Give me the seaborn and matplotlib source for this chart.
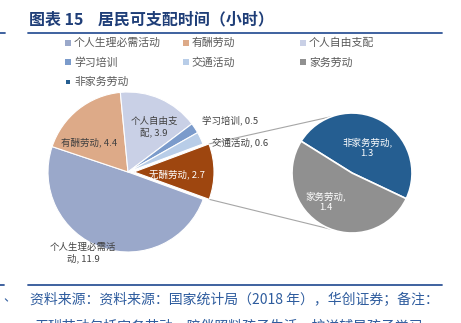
import math
import matplotlib
matplotlib.use("Agg")
import matplotlib.pyplot as plt
import seaborn as sns

sns.set_theme(style="white")
plt.rcParams['font.family'] = ['Noto Sans CJK SC', 'DejaVu Sans']

# ---- data ----
main_labels = ["个人生理必需活动", "有酬劳动", "个人自由支配", "学习培训", "交通活动", "无酬劳动"]
main_values = [11.9, 4.4, 3.9, 0.5, 0.6, 2.7]
main_colors = ["#9AA8CA", "#DDAA88", "#C9D0E6", "#7B9BCB", "#B8CDE8", "#9E460F"]

sub_labels = ["非家务劳动", "家务劳动"]
sub_values = [1.3, 1.4]
sub_colors = ["#255E91", "#909090"]

legend_labels = ["个人生理必需活动", "有酬劳动", "个人自由支配", "学习培训", "交通活动", "家务劳动", "非家务劳动"]
legend_colors = ["#9AA8CA", "#DDAA88", "#C9D0E6", "#7B9BCB", "#B8CDE8", "#909090", "#255E91"]

title = "图表 15    居民可支配时间（小时）"
footer1 = "资料来源：资料来源：国家统计局（2018 年），华创证券；备注："
footer2 = "无酬劳动包括家务劳动、陪伴照料孩子生活、护送辅导孩子学习"

W, H = 461, 323
fig = plt.figure(figsize=(W / 100, H / 100), dpi=100)
ax = fig.add_axes([0, 0, 1, 1])

def Y(y):
    return H - y

# main pie
mc = (128, Y(172))
mr = 80
explode = [0, 0, 0, 0, 0, 6]
w_main, _ = ax.pie(main_values, colors=main_colors, startangle=-20, counterclock=False,
                   center=mc, radius=mr, explode=explode, frame=True,
                   wedgeprops=dict(edgecolor="white", linewidth=0.8))

# sub pie
sc = (352, Y(173))
sr = 60
w_sub, _ = ax.pie(sub_values, colors=sub_colors, startangle=148, counterclock=False,
                  center=sc, radius=sr, frame=True,
                  wedgeprops=dict(edgecolor="white", linewidth=1.2))

# connector lines from exploded wedge to sub pie
ew = w_main[-1]
cx, cy = ew.center
t_hi = max(ew.theta1, ew.theta2)
t_lo = min(ew.theta1, ew.theta2)
p1 = (cx + ew.r * math.cos(math.radians(t_hi)), cy + ew.r * math.sin(math.radians(t_hi)))
p2 = (cx + ew.r * math.cos(math.radians(t_lo)), cy + ew.r * math.sin(math.radians(t_lo)))
q1 = (sc[0] + sr * math.cos(math.radians(110)), sc[1] + sr * math.sin(math.radians(110)))
q2 = (sc[0] + sr * math.cos(math.radians(250)), sc[1] + sr * math.sin(math.radians(250)))
ax.plot([p1[0], q1[0]], [p1[1], q1[1]], color="#A6A6A6", lw=0.8, zorder=0)
ax.plot([p2[0], q2[0]], [p2[1], q2[1]], color="#A6A6A6", lw=0.8, zorder=0)

# data labels
lab_fs = 6.8
dark = "#404040"
def lab(s, x, y, color=dark, ha="center"):
    ax.text(x, Y(y), s, fontsize=lab_fs, color=color, ha=ha, va="center", linespacing=1.3)

lab(f"{main_labels[1]}, {main_values[1]}", 89, 142)
lab(f"个人自由支\n配, {main_values[2]}", 154, 127)
lab(f"{main_labels[5]}, {main_values[5]}", 177, 174, color="white")
lab(f"{main_labels[3]}, {main_values[3]}", 202, 120, ha="left")
lab(f"{main_labels[4]}, {main_values[4]}", 212, 142, ha="left")
lab(f"个人生理必需活\n动, {main_values[0]}", 83, 253)
lab(f"{sub_labels[0]},\n{sub_values[0]}", 367, 148, color="white")
lab(f"{sub_labels[1]},\n{sub_values[1]}", 326, 202, color="white")

# legend (manual grid, row-major)
for i, (name, col) in enumerate(zip(legend_labels, legend_colors)):
    r, c = divmod(i, 3)
    lx = 68 + c * 117.5
    ly = 43 + r * 19.3
    size = 16 if name != "非家务劳动" else 7
    ax.scatter([lx], [Y(ly)], marker="s", s=size, color=col, linewidths=0)
    ax.text(lx + 6, Y(ly), name, fontsize=7.8, color="#595959", ha="left", va="center")

# title and rules
blue = "#2F5597"
ax.text(29, Y(19), title, fontsize=11.5, fontweight="bold", color="#1F3E78", ha="left", va="center")
ax.plot([28, 442], [Y(33), Y(33)], color=blue, lw=1.3)
ax.plot([0, 5], [Y(33), Y(33)], color=blue, lw=1.3)
ax.plot([28, 442], [Y(285), Y(285)], color=blue, lw=1.3)
ax.plot([0, 4], [Y(285), Y(285)], color=blue, lw=1.3)

# footer
ax.text(30, Y(300), footer1, fontsize=10, color="#2E5C9E", style="italic", ha="left", va="center")
ax.text(34, Y(327), footer2, fontsize=10, color="#2E5C9E", style="italic", ha="left", va="center")
ax.text(3, Y(298), "、", fontsize=9, color="#2E5C9E", ha="left", va="center")

ax.set_xlim(0, W)
ax.set_ylim(0, H)
ax.set_aspect("equal")
ax.axis("off")

fig.savefig("out.png", dpi=100)
